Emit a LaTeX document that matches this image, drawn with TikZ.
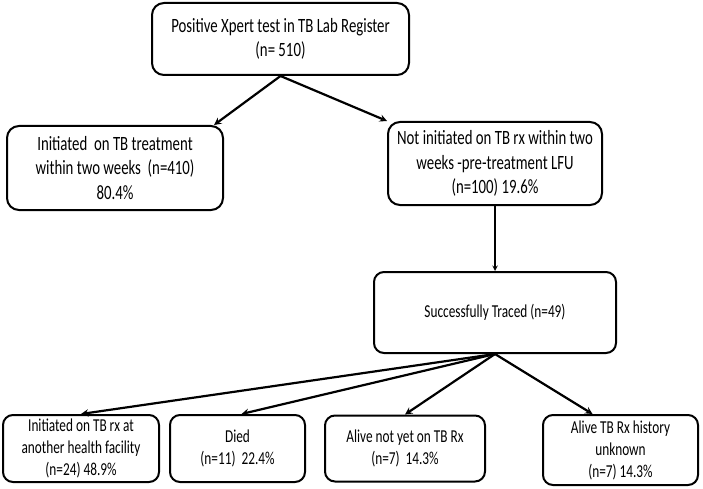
\documentclass[tikz,border=0pt]{standalone}
\usepackage{fontspec}
\setmainfont{Carlito}[FakeStretch=0.73]
\usetikzlibrary{arrows.meta, positioning, calc}

\begin{document}
\begin{tikzpicture}[thick, x=1pt, y=-1pt, >=stealth]
		
		% Define block styles
		\tikzstyle{bigbox} = [rectangle, rounded corners=12pt, draw, line width=2pt, inner sep=0pt, align=center, font=\fontsize{20.3}{24.5}\selectfont]
		\tikzstyle{smallbox} = [rectangle, rounded corners=10pt, draw, line width=2pt, inner sep=0pt, align=center, font=\fontsize{18.2}{22}\selectfont]
		\tikzstyle{link} = [->, line width=2.2pt]
		
		\useasboundingbox (0,0) rectangle (703,489);
		
		% Nodes
		\node[bigbox, minimum width=257pt, minimum height=72pt] (register) at (280.5,39) {Positive Xpert test in TB Lab Register\\(n= 510)};
		\node[bigbox, minimum width=216pt, minimum height=84pt] (started) at (115,168) {Initiated\ \ on TB treatment\\within two weeks\ \ (n=410)\\80.4\%};
		\node[bigbox, minimum width=214pt, minimum height=83pt] (lfu) at (495,163.5) {Not initiated on TB rx within two\\weeks -pre-treatment LFU\\(n=100) 19.6\%};
		\node[smallbox, minimum width=242pt, minimum height=81pt, below of=lfu, node distance=149pt] (traced) {Successfully Traced (n=49)};
		\node[smallbox, minimum width=156pt, minimum height=67pt] (elsewhere) at (81,448.5) {Initiated on TB rx at\\another health facility\\(n=24) 48.9\%};
		\node[smallbox, minimum width=135pt, minimum height=67pt, right of=elsewhere, node distance=156.5pt] (died) {Died\\(n=11)\ \ 22.4\%};
		\node[smallbox, minimum width=160pt, minimum height=66pt, right of=died, node distance=167.5pt] (notyet) {Alive not yet on TB Rx\\(n=7)\ \ 14.3\%};
		\node[smallbox, minimum width=155pt, minimum height=70pt] (unknown) at (620.5,450) {Alive TB Rx history\\unknown\\(n=7) 14.3\%};
		
		% Arrows
		\draw[link] (register.south) -- ([xshift=-10pt]started.north east);
		\draw[link] (register.south) -- (lfu.north west);
		\draw[link, line width=1.4pt] (lfu) -- (traced);
		\draw[link] (traced.south) -- (elsewhere.north);
		\draw[link] (traced.south) -- ([xshift=4pt]died.north);
		\draw[link] (traced.south) -- (notyet.north);
		\draw[link] (traced.south) -- ([xshift=-28pt]unknown.north);
		
	\end{tikzpicture}
\end{document}
